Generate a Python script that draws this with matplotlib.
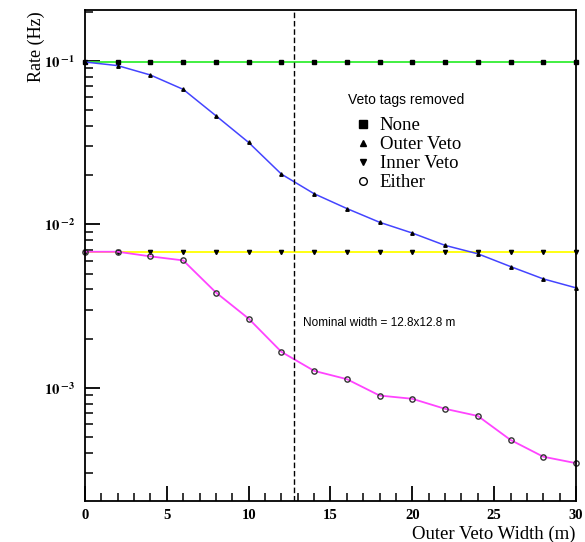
import numpy as np
import matplotlib
matplotlib.use("Agg")
import matplotlib.pyplot as plt
from matplotlib.lines import Line2D
from matplotlib.ticker import LogLocator, FuncFormatter, MultipleLocator, NullFormatter

plt.rcParams['font.family'] = ['Liberation Serif', 'DejaVu Serif']
plt.rcParams['mathtext.fontset'] = 'stix'

# --------- Datos ---------

width = np.arange(0, 31, 2)  # Outer Veto Width (m)

rate_none = [0.0985] * len(width)
rate_outer = [0.0985, 0.0936, 0.082, 0.067, 0.0462, 0.0317, 0.0203, 0.0154,
              0.0125, 0.0103, 0.00885, 0.00744, 0.00661, 0.00552, 0.00464, 0.00409]
rate_inner = [0.0068] * len(width)
rate_either = [0.0068, 0.0068, 0.00637, 0.00602, 0.00383, 0.00265, 0.00166, 0.00127,
               0.00113, 0.000897, 0.000857, 0.000744, 0.000673, 0.00048, 0.000379, 0.000346]

nominal = 12.8
labels = ['None', 'Outer Veto', 'Inner Veto', 'Either']

# --------- Grafico ---------

def pow10(v, pos):
    e = int(round(np.log10(v)))
    return r'$\mathbf{10}^{\;\mathbf{%d}}$' % e

fig = plt.figure(figsize=(5.85, 5.42), dpi=100)
ax = fig.add_axes([0.1453, 0.0756, 0.8393, 0.906])

ax.plot(width, rate_none, color='#33ee33', lw=1.3, marker='s', ms=3, mfc='black', mec='black', clip_on=False)
ax.plot(width, rate_inner, color='#ffff00', lw=1.3, marker='v', ms=3, mfc='black', mec='black', clip_on=False)
ax.plot(width, rate_outer, color='#4444ff', lw=1.1, marker='^', ms=2.5, mfc='black', mec='black', clip_on=False)
ax.plot(width, rate_either, color='#ff44ff', lw=1.3, marker='o', ms=3.8, mfc='none', mec='#333333', mew=1, clip_on=False)

ax.axvline(nominal, color='black', lw=1, ls=(0, (4, 2)))

ax.set_yscale('log')
ax.set_xlim(0, 30)
ax.set_ylim(2.03e-4, 0.205)

ax.xaxis.set_major_locator(MultipleLocator(5))
ax.xaxis.set_minor_locator(MultipleLocator(1))
ax.yaxis.set_major_locator(LogLocator(base=10))
ax.yaxis.set_minor_locator(LogLocator(base=10, subs=np.arange(2, 10)))
ax.yaxis.set_major_formatter(FuncFormatter(pow10))
ax.yaxis.set_minor_formatter(NullFormatter())

ax.tick_params(which='major', direction='in', length=11, width=1.3, labelsize=10.5)
ax.tick_params(which='minor', direction='in', length=6, width=1.1)
ax.tick_params(axis='x', pad=6)
ax.tick_params(axis='y', pad=7)
for lab in ax.get_xticklabels():
    lab.set_fontweight('bold')
for s in ax.spines.values():
    s.set_linewidth(1.3)

ax.set_ylabel('Rate (Hz)', fontsize=13)
ax.yaxis.set_label_coords(-0.082, 0.925)
ax.set_xlabel('Outer Veto Width (m)', fontsize=13.5)
ax.xaxis.set_label_coords(1.0, -0.05)
ax.xaxis.label.set_horizontalalignment('right')

ax.text(13.3, 2.5e-3, 'Nominal width = 12.8x12.8 m', family='Liberation Sans', fontsize=8.5, va='center')

ax.text(0.535, 0.816, 'Veto tags removed', transform=ax.transAxes, family='Liberation Sans',
        fontsize=10, va='center', ha='left')
handles = [Line2D([], [], ls='none', marker='s', ms=6, color='black'),
           Line2D([], [], ls='none', marker='^', ms=5, color='black'),
           Line2D([], [], ls='none', marker='v', ms=5, color='black'),
           Line2D([], [], ls='none', marker='o', ms=5.5, mfc='none', mec='black', mew=1)]
leg = ax.legend(handles, labels, frameon=False, fontsize=13.5,
                loc='upper left', bbox_to_anchor=(0.547, 0.782), handlelength=1.0, handletextpad=0.4,
                labelspacing=0.1, borderpad=0, borderaxespad=0)

fig.savefig('out.png', dpi=100)
